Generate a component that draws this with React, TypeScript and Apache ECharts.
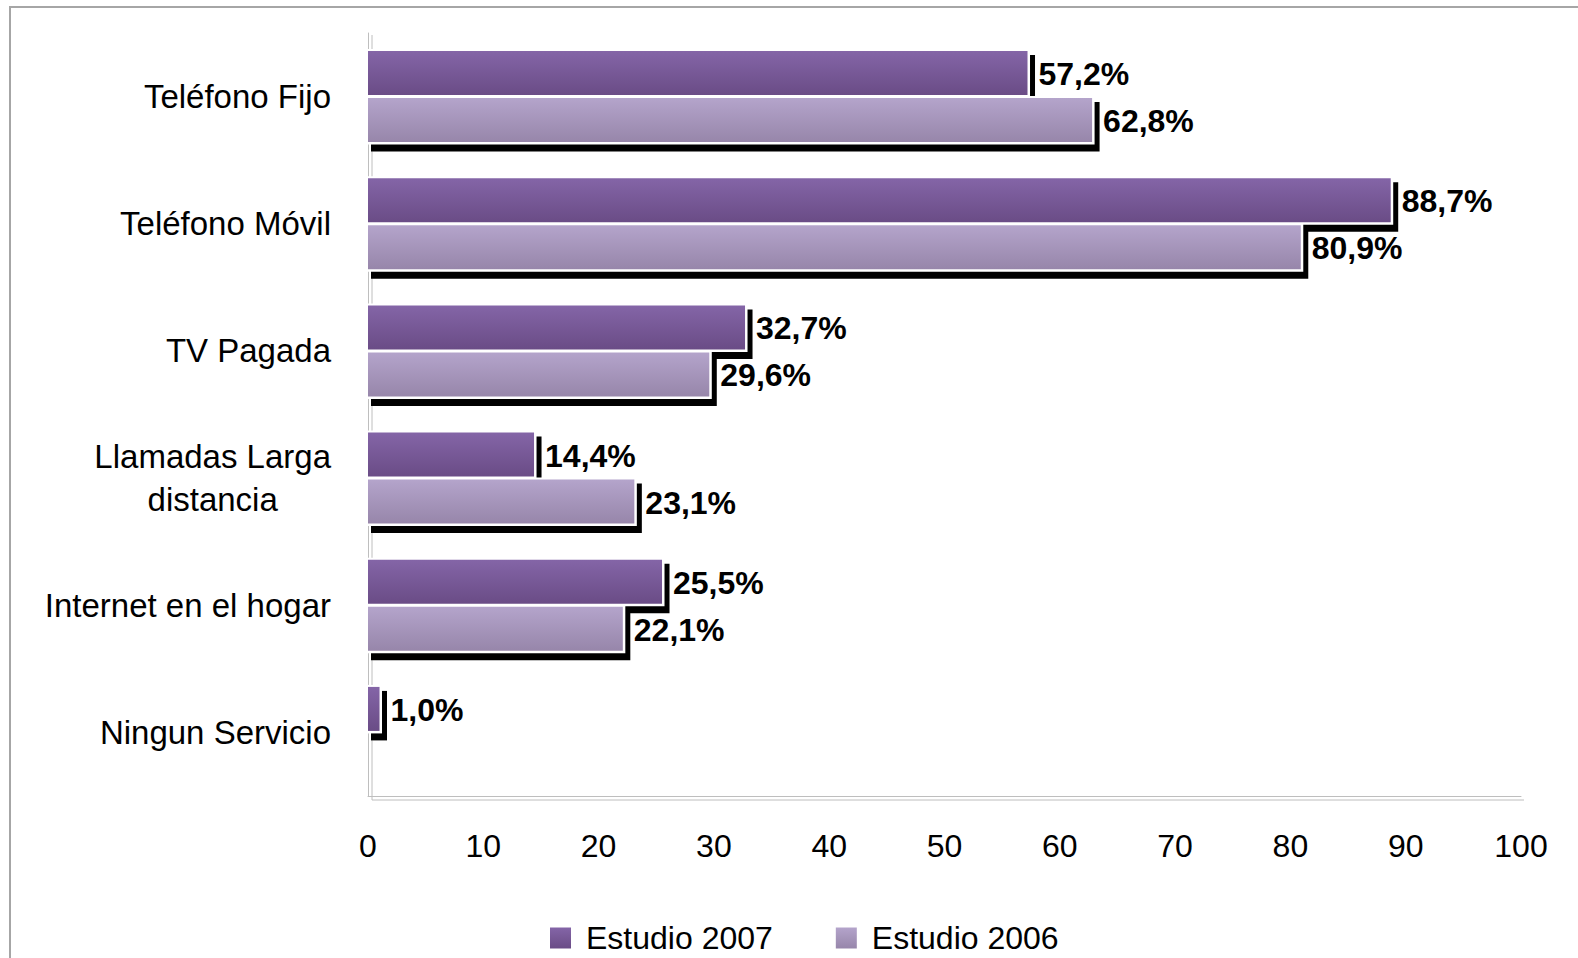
import React, { useEffect, useRef } from "react";
import * as echarts from "echarts";

// Servicios en el hogar: share of households (%), two survey waves
const categories = [
  "Teléfono Fijo",
  "Teléfono Móvil",
  "TV Pagada",
  "Llamadas Larga\ndistancia",
  "Internet en el hogar",
  "Ningun Servicio",
];
const estudio2007 = [57.2, 88.7, 32.7, 14.4, 25.5, 1.0];
const estudio2006: (number | null)[] = [62.8, 80.9, 29.6, 23.1, 22.1, null];
const seriesNames = ["Estudio 2007", "Estudio 2006"];
const xTicks = { min: 0, max: 100, interval: 10 };

const FONT = "'Liberation Sans', Arial, Helvetica, sans-serif";
const GRID = { left: 368, right: 57, top: 33, bottom: 162 };
const W = 1578;
const H = 958;

const grad2007 = () =>
  new echarts.graphic.LinearGradient(0, 0, 0, 1, [
    { offset: 0, color: "#8465A7" },
    { offset: 1, color: "#6A4C86" },
  ]);
const grad2006 = () =>
  new echarts.graphic.LinearGradient(0, 0, 0, 1, [
    { offset: 0, color: "#B4A4CB" },
    { offset: 1, color: "#9786AA" },
  ]);

const fmt = (v: number) => v.toFixed(1).replace(".", ",") + "%";

// Bar with a white outline and a hard black drop shadow, plus its value label
function makeRenderItem(slot: 0 | 1, fill: () => any) {
  return (params: any, api: any) => {
    const val = api.value(0);
    const cat = api.value(1);
    const base = api.coord([0, cat]);
    const end = api.coord([val, cat]);
    const band = api.size([0, 1])[1];
    const barH = band * 0.346;
    const half = 1.5;
    const y0 = slot === 0 ? base[1] - half - barH : base[1] + half;
    const x0 = base[0];
    const w = end[0] - base[0];
    return {
      type: "group",
      children: [
        {
          type: "rect",
          shape: { x: x0 + 3, y: y0 + 4, width: w + 4.5, height: barH + 5.5 },
          style: { fill: "#000" },
        },
        {
          type: "rect",
          shape: { x: x0, y: y0 - 2, width: w + 2.5, height: barH + 4.5 },
          style: { fill: "#fff" },
        },
        {
          type: "rect",
          shape: { x: x0, y: y0, width: w, height: barH },
          style: { fill: fill() },
        },
        {
          type: "text",
          x: x0 + w + 11,
          y: y0 + barH / 2 + 1,
          style: {
            text: fmt(val),
            fill: "#000",
            font: `bold 32px ${FONT}`,
            verticalAlign: "middle",
            align: "left",
          },
        },
      ],
    };
  };
}

export default function App() {
  const ref = useRef<HTMLDivElement>(null);

  useEffect(() => {
    document.body.style.margin = "0";
    const chart = echarts.init(ref.current!, undefined, { renderer: "svg" });

    const plotL = GRID.left;
    const plotR = W - GRID.right;
    const plotT = GRID.top;
    const plotB = H - GRID.bottom;
    const frameColor = "#BEBEBE";

    chart.setOption({
      animation: false,
      backgroundColor: "#fff",
      textStyle: { fontFamily: FONT },
      grid: { ...GRID, containLabel: false },
      legend: {
        data: seriesNames,
        left: 550,
        top: 922,
        padding: 0,
        icon: "rect",
        itemWidth: 21,
        itemHeight: 21,
        itemGap: 63,
        textStyle: {
          fontSize: 32,
          color: "#000",
          fontFamily: FONT,
          padding: [0, 0, 0, 10],
        },
      },
      xAxis: {
        type: "value",
        min: xTicks.min,
        max: xTicks.max,
        interval: xTicks.interval,
        splitLine: { show: false },
        axisTick: { show: false },
        axisLine: { show: true, lineStyle: { color: frameColor, width: 1 } },
        axisLabel: { fontSize: 32, color: "#000", margin: 34, fontFamily: FONT },
      },
      yAxis: {
        type: "category",
        inverse: true,
        data: categories,
        axisTick: { show: false },
        axisLine: { show: true, lineStyle: { color: frameColor, width: 1 } },
        axisLabel: {
          margin: 37,
          align: "right",
          formatter: (v: string) =>
            v
              .split("\n")
              .map((l) => `{c|${l}}`)
              .join("\n"),
          rich: {
            c: {
              fontSize: 33,
              color: "#000",
              fontFamily: FONT,
              align: "center",
              lineHeight: 43,
            },
          },
        },
      },
      series: [
        {
          name: seriesNames[0],
          type: "custom",
          itemStyle: { color: grad2007() },
          encode: { x: 0, y: 1 },
          data: estudio2007.map((v, i) => [v, i]),
          renderItem: makeRenderItem(0, grad2007),
        },
        {
          name: seriesNames[1],
          type: "custom",
          itemStyle: { color: grad2006() },
          encode: { x: 0, y: 1 },
          data: estudio2006
            .map((v, i) => (v == null ? null : [v, i]))
            .filter((d) => d !== null),
          renderItem: makeRenderItem(1, grad2006),
        },
      ],
      graphic: [
        {
          type: "rect",
          silent: true,
          shape: { x: 10, y: 7, width: W + 40, height: H + 40 },
          style: { fill: "none", stroke: "#A6A6A6", lineWidth: 2 },
        },
        {
          type: "line",
          silent: true,
          shape: { x1: plotL + 4, y1: plotT + 2, x2: plotL + 4, y2: plotB + 4 },
          style: { stroke: frameColor, lineWidth: 1 },
        },
        {
          type: "line",
          silent: true,
          shape: { x1: plotL + 4, y1: plotB + 4, x2: plotR + 3, y2: plotB + 4 },
          style: { stroke: frameColor, lineWidth: 1 },
        },
      ],
    });

    return () => chart.dispose();
  }, []);

  return <div ref={ref} style={{ width: W, height: H }} />;
}
